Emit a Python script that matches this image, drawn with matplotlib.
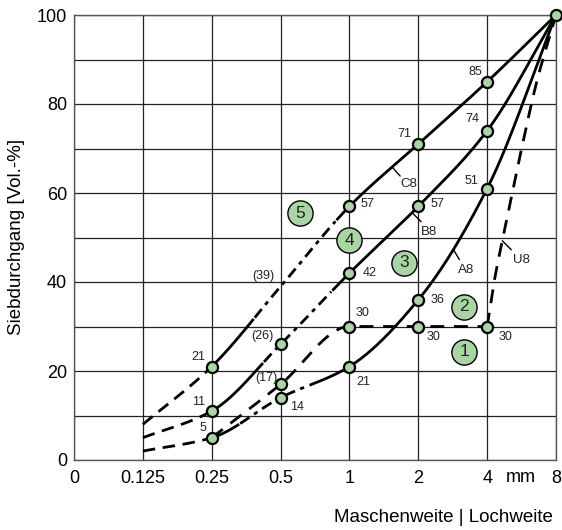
import numpy as np
import matplotlib
matplotlib.use("Agg")
import matplotlib.pyplot as plt

plt.rcParams['font.family'] = ['Liberation Sans', 'DejaVu Sans']
plt.rcParams['lines.scale_dashes'] = False

# ---------------- data ----------------
sieve_mm = [0.125, 0.25, 0.5, 1, 2, 4, 8]
xtick_vals = [0, 0.125, 0.25, 0.5, 1, 2, 4, 8]
xtick_labels = ['0', '0.125', '0.25', '0.5', '1', '2', '4', '8']
ytick_vals = [0, 20, 40, 60, 80, 100]

c8_vals = [8, 21, 39, 57, 71, 85, 100]
b8_vals = [5, 11, 26, 42, 57, 74, 100]
a8_vals = [2, 5, 14, 21, 36, 61, 100]

c8_marked = [False, True, False, True, True, True, True]
b8_marked = [False, True, True, True, True, True, False]
a8_marked = [False, True, True, True, True, True, False]

c8_labels = [None, '21', '(39)', '57', '71', '85', None]
b8_labels = [None, '11', '(26)', '42', '57', '74', None]
a8_labels = [None, '5', '14', '21', '36', '51', None]

u8_mm = [0.25, 0.5, 1, 2, 4]
u8_vals = [5, 17, 30, 30, 30]
u8_marked = [False, True, True, True, True]
u8_labels = [None, '(17)', '30', '30', '30']
u8_tail_mm = [4, 4.29, 4.92, 5.66, 6.59, 8]
u8_tail_vals = [30, 40, 55, 70, 85, 100]

zone_names = ['1', '2', '3', '4', '5']
zone_mm = [3.18, 3.18, 1.74, 1.0, 0.607]
zone_vals = [24.3, 34.4, 44.3, 49.4, 55.5]

GREEN = '#a9d5a4'

# ---------------- scale ----------------
def fwd(x):
    x = np.asarray(x, float)
    return np.where(x <= 0.125, x / 0.125,
                    np.log2(np.maximum(x, 1e-9) / 0.125) + 1)

def inv(y):
    y = np.asarray(y, float)
    return np.where(y <= 1, y * 0.125, 0.125 * 2 ** (y - 1))

def pchip(xk, yk, xs):
    xk = np.asarray(xk, float); yk = np.asarray(yk, float)
    h = np.diff(xk); d = np.diff(yk) / h
    n = len(xk); m = np.zeros(n)
    m[0] = d[0]; m[-1] = d[-1]
    for k in range(1, n - 1):
        if d[k - 1] * d[k] <= 0:
            m[k] = 0
        else:
            w1 = 2 * h[k] + h[k - 1]; w2 = h[k] + 2 * h[k - 1]
            m[k] = (w1 + w2) / (w1 / d[k - 1] + w2 / d[k])
    idx = np.clip(np.searchsorted(xk, xs) - 1, 0, n - 2)
    t = (xs - xk[idx]) / h[idx]
    h00 = 2 * t**3 - 3 * t**2 + 1; h10 = t**3 - 2 * t**2 + t
    h01 = -2 * t**3 + 3 * t**2; h11 = t**3 - t**2
    return (h00 * yk[idx] + h10 * h[idx] * m[idx] +
            h01 * yk[idx + 1] + h11 * h[idx] * m[idx + 1])

fig = plt.figure(figsize=(5.62, 5.30), dpi=100)
ax = fig.add_axes([74 / 562, 1 - 460 / 530, (556 - 74) / 562, (460 - 15) / 530])
ax.set_xscale('function', functions=(fwd, inv))
ax.set_xlim(0, 8)
ax.set_ylim(0, 100)

ax.set_xticks(xtick_vals)
ax.set_xticklabels(xtick_labels)
ax.set_yticks(ytick_vals)
ax.set_yticks(np.arange(10, 100, 20), minor=True)
ax.tick_params(axis='both', which='both', length=0, labelsize=13, colors='black')
ax.tick_params(axis='x', pad=7)
ax.tick_params(axis='y', pad=5)
ax.grid(True, which='both', color='#222222', lw=0.9, zorder=0)
for s in ax.spines.values():
    s.set_color('#555555'); s.set_linewidth(1.0)
ax.set_axisbelow(True)

LW = 2.0
DASH = (0, (9, 5.5))
DASHDOT = (0, (8, 4, 3, 4))
UDASH = (0, (10, 7))

def draw_curve(mm, vals, styles, n=400):
    xi = fwd(mm)
    xs = np.linspace(xi[0], xi[-1], n)
    ys = pchip(xi, vals, xs)
    for a, b, ls in styles:
        sel = (xs >= a - 1e-9) & (xs <= b + 1e-9)
        ax.plot(inv(xs[sel]), ys[sel], color='black', lw=LW, ls=ls,
                solid_capstyle='butt', dash_capstyle='butt', zorder=3, clip_on=False)

draw_curve(sieve_mm, c8_vals, [(1, 2, DASH), (2, 2.62, '-'), (2.62, 3.8, DASHDOT), (3.8, 7, '-')])
draw_curve(sieve_mm, b8_vals, [(1, 2, DASH), (2, 2.75, '-'), (2.75, 3.75, DASHDOT), (3.75, 7, '-')])
draw_curve(sieve_mm, a8_vals, [(1, 1.95, DASH), (2, 2.4, '-'), (2.4, 3.42, DASHDOT), (3.42, 7, '-')])
draw_curve(u8_mm, u8_vals, [(2, 6, UDASH)])
draw_curve(u8_tail_mm, u8_tail_vals, [(6, 7, UDASH)])

def draw_markers(mm, vals, marked):
    xm = [m for m, f in zip(mm, marked) if f]
    ym = [v for v, f in zip(vals, marked) if f]
    ax.plot(xm, ym, 'o', ms=8, mfc=GREEN, mec='black', mew=1.6, ls='none',
            zorder=5, clip_on=False)

draw_markers(sieve_mm, c8_vals, c8_marked)
draw_markers(sieve_mm, b8_vals, b8_marked)
draw_markers(sieve_mm, a8_vals, a8_marked)
draw_markers(u8_mm, u8_vals, u8_marked)

# point labels (offsets in pixels)
c8_off = [None, (-13, 10), (-17, 10), (18, 2), (-14, 10), (-12, 10), None]
b8_off = [None, (-13, 9), (-18, 8), (20, 0), (19, 2), (-15, 12), None]
a8_off = [None, (-9, 10), (16, -9), (14, -15), (19, 0), (-16, 8), None]
u8_off = [None, (-14, 6), (13, 13), (15, -10), (18, -10)]

def draw_labels(mm, vals, labels, offs):
    for m, v, t, o in zip(mm, vals, labels, offs):
        if t is None:
            continue
        ax.annotate(t, (m, v), xytext=o, textcoords='offset pixels',
                    ha='center', va='center', fontsize=9, color='#222222', zorder=6)

draw_labels(sieve_mm, c8_vals, c8_labels, c8_off)
draw_labels(sieve_mm, b8_vals, b8_labels, b8_off)
draw_labels(sieve_mm, a8_vals, a8_labels, a8_off)
draw_labels(u8_mm, u8_vals, u8_labels, u8_off)

# curve names with leader ticks
curve_names = ['C8', 'B8', 'A8', 'U8']
name_idx = [4.62, 4.91, 5.51, 6.22]
name_src = [(sieve_mm, c8_vals), (sieve_mm, b8_vals), (sieve_mm, a8_vals), (u8_tail_mm, u8_tail_vals)]
tick_off = [(8, -9), (9, -9), (6, -10), (9, -9)]
name_off = [(17, -17), (17, -19), (13, -20), (19, -19)]
for nm, xi, (mm, vals), toff, noff in zip(curve_names, name_idx, name_src, tick_off, name_off):
    yv = float(pchip(fwd(mm), vals, np.array([xi]))[0])
    anchor = (float(inv(xi)), yv)
    ax.annotate('', anchor, xytext=toff, textcoords='offset pixels',
                arrowprops=dict(arrowstyle='-', lw=1.0, color='black', shrinkA=0, shrinkB=0),
                zorder=6)
    ax.annotate(nm, anchor, xytext=noff, textcoords='offset pixels',
                ha='center', va='center', fontsize=9.5, color='#222222', zorder=6)

# numbered zones
ax.scatter(zone_mm, zone_vals, s=330, c=GREEN, edgecolors='black', linewidths=1.0, zorder=7)
for t, m, v in zip(zone_names, zone_mm, zone_vals):
    ax.text(m, v, t, ha='center', va='center', fontsize=12.5, color='#222222', zorder=8)

fig.text(521 / 562, 1 - 476 / 530, 'mm', ha='center', va='center_baseline', fontsize=13)
fig.text(553 / 562, 1 - 517 / 530, 'Maschenweite | Lochweite', ha='right', va='center', fontsize=13.5)
fig.text(17 / 562, 1 - 237 / 530, 'Siebdurchgang [Vol.-%]', rotation=90, ha='center', va='center', fontsize=13.5)

fig.savefig('out.png', dpi=100)
